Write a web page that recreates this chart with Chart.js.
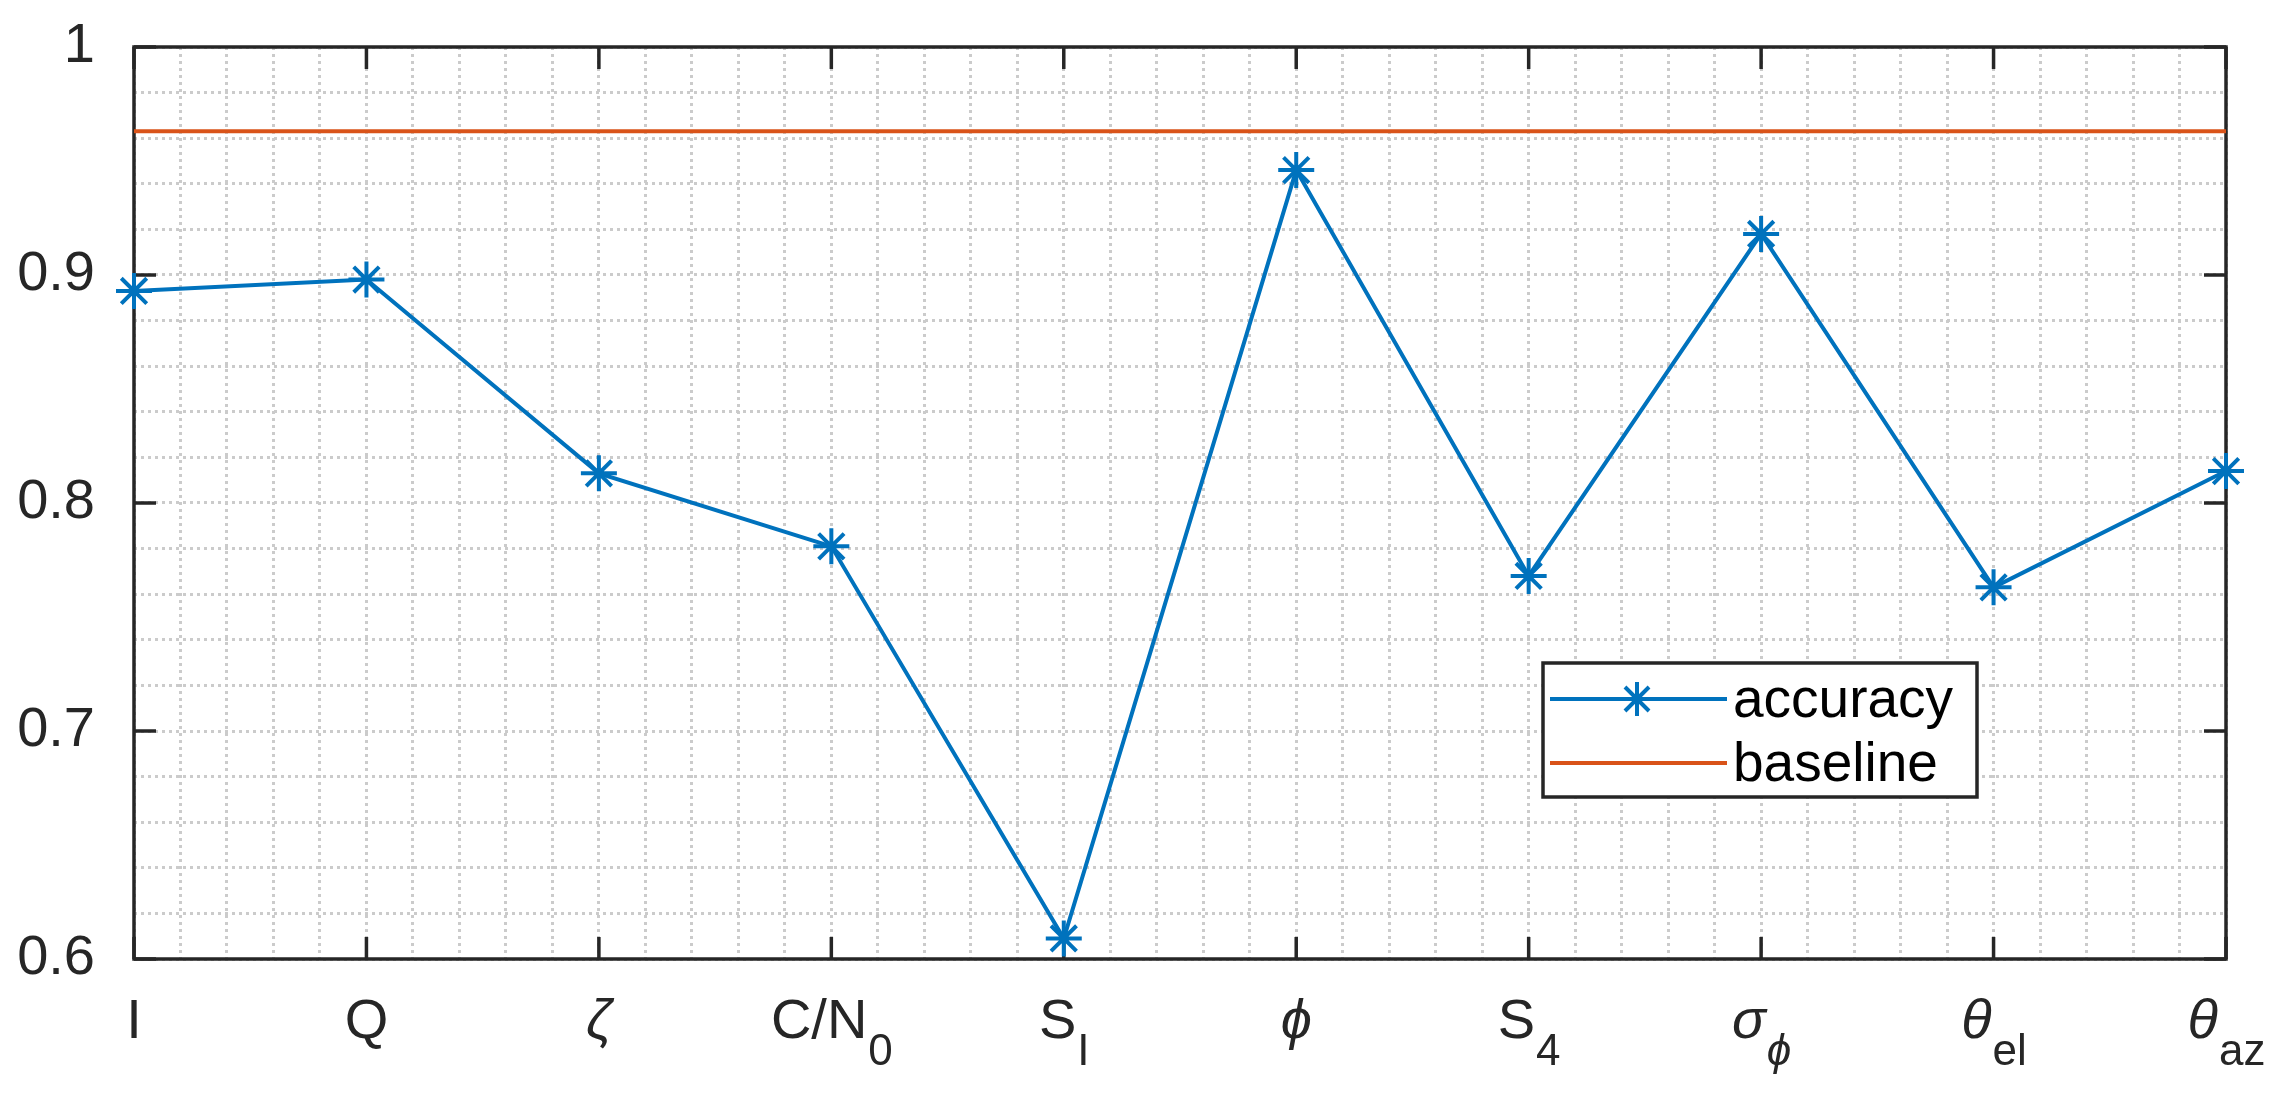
<!DOCTYPE html>
<html>
<head>
<meta charset="utf-8">
<script src="https://cdn.jsdelivr.net/npm/chart.js"></script>
<style>
  html, body { margin: 0; padding: 0; background: #fff; }
  #wrap { width: 2286px; height: 1096px; }
</style>
</head>
<body>
<div id="wrap"><canvas id="myChart" width="2286" height="1096"></canvas></div>
<script>
// feature names: main glyph + subscript
const featureMain = ['I', 'Q', 'ζ', 'C/N', 'S', 'ϕ', 'S', 'σ', 'θ', 'θ'];
const featureSub  = ['', '', '', '0', 'I', '', '4', 'ϕ', 'el', 'az'];
const accuracy = [0.893, 0.898, 0.813, 0.781, 0.609, 0.946, 0.768, 0.918, 0.763, 0.814];
const baseline = [0.963, 0.963, 0.963, 0.963, 0.963, 0.963, 0.963, 0.963, 0.963, 0.963];
const yTickLabels = [0.6, 0.7, 0.8, 0.9, 1];
const seriesNames = ['accuracy', 'baseline'];

const BLUE = '#0072BD';
const ORANGE = '#D95319';
const AXIS = '#262626';
const GRID = '#cbcbcb';
const FONT = '"Liberation Sans", Arial, Helvetica, sans-serif';

const isGreek = s => /[\u0370-\u03FF]/.test(s);

const matlabLook = {
  id: 'matlabLook',
  beforeDatasetsDraw(chart) {
    const { ctx, chartArea: a, scales: { x, y } } = chart;
    ctx.save();
    ctx.strokeStyle = AXIS;
    ctx.lineWidth = 3.5;
    ctx.beginPath();
    for (let i = 0; i < featureMain.length; i++) {
      const px = x.getPixelForValue(i);
      ctx.moveTo(px, a.bottom); ctx.lineTo(px, a.bottom - 22);
      ctx.moveTo(px, a.top); ctx.lineTo(px, a.top + 22);
    }
    for (const t of yTickLabels) {
      const py = y.getPixelForValue(t);
      ctx.moveTo(a.left, py); ctx.lineTo(a.left + 22, py);
      ctx.moveTo(a.right, py); ctx.lineTo(a.right - 22, py);
    }
    ctx.stroke();
    ctx.strokeRect(a.left, a.top, a.right - a.left, a.bottom - a.top);
    ctx.restore();
  },
  afterDatasetsDraw(chart) {
    const { ctx, scales: { x } } = chart;
    ctx.save();
    ctx.fillStyle = AXIS;
    ctx.textBaseline = 'alphabetic';
    ctx.textAlign = 'left';
    // x tick labels with subscripts
    for (let i = 0; i < featureMain.length; i++) {
      const m = featureMain[i], s = featureSub[i];
      const mFont = (isGreek(m) ? 'italic ' : '') + '56px ' + FONT;
      const sFont = (isGreek(s) ? 'italic ' : '') + '44px ' + FONT;
      ctx.font = mFont; const wm = ctx.measureText(m).width;
      ctx.font = sFont; const ws = s ? ctx.measureText(s).width : 0;
      const x0 = x.getPixelForValue(i) - (wm + ws) / 2;
      ctx.font = mFont; ctx.fillText(m, x0, 1038);
      if (s) { ctx.font = sFont; ctx.fillText(s, x0 + wm + 1, 1065); }
    }
    // legend
    const bx = 1543, by = 663, bw = 434, bh = 134;
    ctx.fillStyle = '#fff';
    ctx.fillRect(bx, by, bw, bh);
    ctx.strokeStyle = AXIS; ctx.lineWidth = 3.5;
    ctx.strokeRect(bx, by, bw, bh);
    const rows = [699, 763];
    chart.data.datasets.forEach((ds, k) => {
      const ry = rows[k];
      ctx.strokeStyle = ds.borderColor; ctx.lineWidth = 4;
      ctx.beginPath(); ctx.moveTo(1550, ry); ctx.lineTo(1727, ry); ctx.stroke();
      if (ds.pointRadius > 0) {
        Chart.helpers.drawPoint(ctx, { pointStyle: 'star', radius: 17, borderWidth: 4 }, 1637, ry);
      }
      ctx.fillStyle = '#000';
      ctx.font = '55px ' + FONT;
      ctx.fillText(ds.label, 1733, ry + 18);
    });
    ctx.restore();
  }
};

new Chart(document.getElementById('myChart'), {
  type: 'line',
  data: {
    datasets: [
      {
        label: seriesNames[0],
        data: accuracy.map((v, i) => ({ x: i, y: v })),
        borderColor: BLUE,
        backgroundColor: BLUE,
        borderWidth: 4,
        pointStyle: 'star',
        pointRadius: 18,
        pointBorderWidth: 4,
        pointBorderColor: BLUE,
        tension: 0,
        clip: false
      },
      {
        label: seriesNames[1],
        data: baseline.map((v, i) => ({ x: i, y: v })),
        borderColor: ORANGE,
        backgroundColor: ORANGE,
        borderWidth: 4,
        pointRadius: 0,
        tension: 0
      }
    ]
  },
  plugins: [matlabLook],
  options: {
    responsive: false,
    animation: false,
    devicePixelRatio: 1,
    layout: { padding: { left: 0, top: 47, right: 60, bottom: 0 } },
    plugins: { legend: { display: false }, tooltip: { enabled: false } },
    scales: {
      x: {
        type: 'linear',
        min: 0,
        max: featureMain.length - 1,
        afterFit: s => { s.height = 137; s.paddingLeft = 0; s.paddingRight = 0; },
        ticks: { display: false, stepSize: 0.2, maxTicksLimit: 200, autoSkip: false },
        grid: { color: GRID, lineWidth: 3, drawTicks: false },
        border: { display: false, dash: [3, 4] }
      },
      y: {
        min: 0.6,
        max: 1,
        afterFit: s => { s.width = 134; s.paddingTop = 0; s.paddingBottom = 0; },
        ticks: {
          stepSize: 0.02,
          maxTicksLimit: 200,
          autoSkip: false,
          padding: 39,
          color: AXIS,
          font: { family: FONT, size: 56 },
          callback: v => {
            const t = yTickLabels.find(t => Math.abs(t - v) < 1e-6);
            return t === undefined ? '' : String(t);
          }
        },
        grid: { color: GRID, lineWidth: 3, drawTicks: false },
        border: { display: false, dash: [3, 4] }
      }
    }
  }
});
</script>
</body>
</html>
